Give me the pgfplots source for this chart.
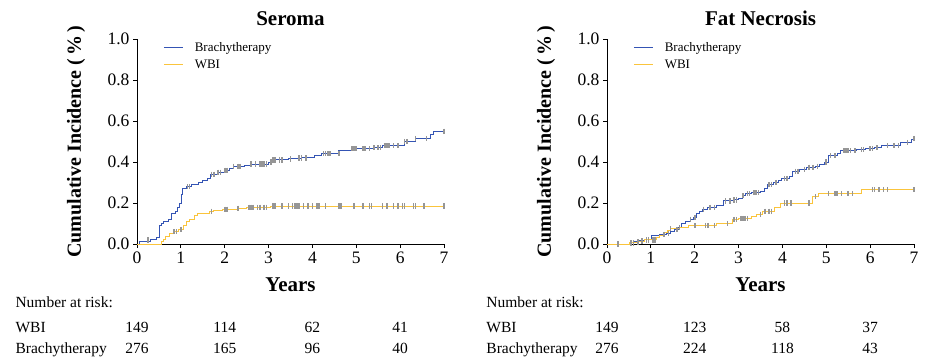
\documentclass[border=0pt]{standalone}
\usepackage{fontspec}
\setmainfont{Liberation Serif}
\usepackage{pgfplots}
\pgfplotsset{compat=1.18}
\definecolor{bt}{RGB}{52,84,180}
\definecolor{wb}{RGB}{250,196,60}
\definecolor{cens}{RGB}{150,150,150}
\tikzset{risk/.style={font=\fontsize{15.5}{15.5}\selectfont}}
\pgfplotsset{kmstyle/.style={
  scale only axis, width=307pt, height=205pt,
  xmin=0, xmax=7, ymin=0, ymax=1,
  axis lines*=left,
  axis line style={line width=0.8pt},
  xtick={0,1,...,7}, ytick={0,0.2,0.4,0.6,0.8,1.0},
  tick align=outside, major tick length=4pt,
  tick style={black, line width=0.8pt},
  yticklabel style={/pgf/number format/.cd, fixed, fixed zerofill, precision=1},
  ticklabel style={font=\fontsize{17.5}{17.5}\selectfont},
  /pgf/number format/assume math mode=true,
  clip=false,
  title style={at={(0.5,1)}, anchor=base, yshift=8pt, font=\fontsize{21}{21}\selectfont\bfseries},
  xlabel style={at={(0.5,0)}, anchor=base, yshift=-47pt, font=\fontsize{21}{21}\selectfont\bfseries},
  ylabel style={at={(-0.183,0.5)}, anchor=base, font=\fontsize{20}{20}\selectfont\bfseries},
  xlabel={Years}, ylabel={Cumulative Incidence (\,\%\,)},
  legend style={at={(0.085,0.995)}, anchor=north west, draw=none, fill=none,
    font=\fontsize{13}{13}\selectfont, row sep=3pt, inner sep=0pt},
  legend cell align=left,
  legend image code/.code={\draw[#1] (0pt,0pt) -- (19pt,0pt); \draw[draw=none] (19pt,0pt) -- (29pt,0pt);},
},
line/.style={const plot, no marks, line width=1pt},
cmark/.style={only marks, mark=|, mark size=2.6pt, cens, mark options={line width=1.6pt}}
}
\begin{document}
\begin{tikzpicture}
\useasboundingbox (0,0) rectangle (926pt,-357pt);
% ---------------- Seroma ----------------
\begin{axis}[kmstyle, at={(137pt,-244pt)}, anchor=south west, title={Seroma}]
\addplot[line, bt] coordinates {
(0,0) (0.05,0.01) (0.3,0.02) (0.45,0.03) (0.52,0.09) (0.55,0.10) (0.6,0.11)
(0.72,0.12) (0.78,0.15) (0.88,0.16) (0.93,0.18) (0.98,0.20) (1.01,0.24)
(1.04,0.27) (1.12,0.28) (1.25,0.29) (1.4,0.30) (1.5,0.31) (1.6,0.32)
(1.68,0.34) (1.85,0.35) (2.0,0.36) (2.1,0.37) (2.2,0.38) (2.45,0.385)
(2.6,0.39) (3.0,0.40) (3.1,0.41) (3.45,0.415) (3.75,0.42) (4.05,0.43)
(4.2,0.44) (4.6,0.455) (4.9,0.465) (5.4,0.47) (5.6,0.48) (6.1,0.50)
(6.35,0.515) (6.7,0.535) (6.75,0.55) (7.0,0.55)};
\addlegendentry{Brachytherapy}
\addplot[line, wb] coordinates {
(0,0) (0.55,0.01) (0.6,0.02) (0.65,0.035) (0.75,0.05) (0.85,0.06) (0.95,0.07)
(1.05,0.09) (1.12,0.11) (1.2,0.12) (1.3,0.14) (1.38,0.15) (1.65,0.16)
(1.75,0.165) (1.95,0.17) (2.3,0.175) (2.5,0.18) (3.05,0.185) (7,0.185)};
\addlegendentry{WBI}
\addplot[cmark, forget plot] coordinates {
(0.25,0.02) (1.15,0.28) (1.2,0.28) (1.7,0.34) (1.75,0.34) (1.85,0.35) (1.9,0.35)
(2.0,0.36) (2.05,0.36) (2.2,0.38) (2.3,0.38) (2.35,0.38) (2.6,0.39) (2.7,0.39)
(2.8,0.39) (2.85,0.39) (2.9,0.39) (2.95,0.39) (3.05,0.40) (3.1,0.41) (3.15,0.41)
(3.25,0.41) (3.3,0.41) (3.5,0.415) (3.7,0.42) (3.75,0.42) (3.85,0.42) (4.25,0.44)
(4.3,0.44) (4.35,0.44) (4.4,0.44) (4.6,0.44) (4.9,0.465) (4.95,0.465) (5.0,0.465)
(5.15,0.465) (5.2,0.465) (5.3,0.465) (5.4,0.47) (5.5,0.47) (5.55,0.47) (5.65,0.48)
(5.7,0.48) (5.75,0.48) (5.85,0.48) (5.95,0.48) (6.1,0.50) (6.15,0.50) (6.35,0.515)
(6.6,0.515) (7.0,0.55)};
\addplot[cmark, forget plot] coordinates {
(0.85,0.06) (0.9,0.06) (1.0,0.07) (1.7,0.16) (2.0,0.17) (2.05,0.17) (2.3,0.175)
(2.55,0.18) (2.6,0.18) (2.65,0.18) (2.75,0.18) (2.8,0.18) (2.9,0.18) (2.95,0.18)
(3.1,0.185) (3.15,0.185) (3.3,0.185) (3.45,0.185) (3.55,0.185) (3.6,0.185)
(3.65,0.185) (3.7,0.185) (3.8,0.185) (3.9,0.185) (4.0,0.185) (4.1,0.185)
(4.15,0.185) (4.3,0.185) (4.6,0.185) (4.65,0.185) (4.95,0.185) (5.15,0.185)
(5.3,0.185) (5.35,0.185) (5.6,0.185) (5.7,0.185) (5.85,0.185) (5.95,0.185)
(6.05,0.185) (6.1,0.185) (6.3,0.185) (6.35,0.185) (6.55,0.185) (7.0,0.185)};
\node[risk, anchor=base west] at (axis cs:-2.85,-0.312) {Number at risk:};
\node[risk, anchor=base west] at (axis cs:-2.85,-0.434) {WBI};
\node[risk, anchor=base west] at (axis cs:-2.85,-0.532) {Brachytherapy};
\node[risk, anchor=base] at (axis cs:0,-0.434) {149};
\node[risk, anchor=base] at (axis cs:2,-0.434) {114};
\node[risk, anchor=base] at (axis cs:4,-0.434) {62};
\node[risk, anchor=base] at (axis cs:6,-0.434) {41};
\node[risk, anchor=base] at (axis cs:0,-0.532) {276};
\node[risk, anchor=base] at (axis cs:2,-0.532) {165};
\node[risk, anchor=base] at (axis cs:4,-0.532) {96};
\node[risk, anchor=base] at (axis cs:6,-0.532) {40};
\end{axis}
% ---------------- Fat Necrosis ----------------
\begin{axis}[kmstyle, at={(607pt,-244pt)}, anchor=south west, title={Fat Necrosis}]
\addplot[line, bt] coordinates {
(0,0) (0.52,0.005) (0.62,0.01) (0.75,0.015) (0.85,0.02) (1.02,0.04) (1.2,0.045)
(1.35,0.05) (1.45,0.06) (1.55,0.07) (1.62,0.08) (1.7,0.10) (1.8,0.11) (1.9,0.12)
(1.98,0.13) (2.05,0.15) (2.12,0.16) (2.18,0.17) (2.3,0.18) (2.5,0.19) (2.65,0.21)
(2.9,0.215) (3.0,0.22) (3.08,0.235) (3.15,0.245) (3.3,0.25) (3.5,0.255) (3.58,0.27)
(3.65,0.29) (3.8,0.30) (3.9,0.31) (3.98,0.32) (4.15,0.33) (4.22,0.355) (4.4,0.365)
(4.55,0.375) (4.75,0.38) (4.85,0.39) (4.95,0.40) (5.05,0.43) (5.25,0.44) (5.32,0.455)
(5.7,0.46) (5.9,0.465) (6.1,0.47) (6.25,0.48) (6.7,0.495) (6.95,0.51) (7.0,0.515)};
\addlegendentry{Brachytherapy}
\addplot[line, wb] coordinates {
(0,0) (0.52,0.005) (0.7,0.01) (0.85,0.02) (1.12,0.03) (1.2,0.04) (1.3,0.055)
(1.38,0.065) (1.45,0.075) (1.65,0.08) (1.85,0.09) (2.5,0.10) (2.85,0.12) (3.0,0.125)
(3.3,0.135) (3.42,0.145) (3.55,0.16) (3.82,0.18) (3.95,0.20) (4.68,0.23) (4.82,0.245)
(5.8,0.265) (7.0,0.265)};
\addlegendentry{WBI}
\addplot[cmark, forget plot] coordinates {
(0.6,0.005) (0.7,0.01) (0.8,0.015) (0.9,0.02) (0.95,0.02) (1.3,0.045) (1.4,0.05)
(1.6,0.07) (1.9,0.12) (2.0,0.13) (2.2,0.17) (2.35,0.18) (2.45,0.18) (2.7,0.21)
(2.8,0.21) (2.9,0.215) (2.95,0.215) (3.1,0.235) (3.2,0.245) (3.25,0.245) (3.35,0.25)
(3.4,0.25) (3.45,0.25) (3.7,0.29) (3.75,0.29) (3.85,0.30) (4.05,0.32) (4.1,0.32)
(4.3,0.355) (4.35,0.355) (4.5,0.365) (4.6,0.375) (4.7,0.375) (4.8,0.38) (5.0,0.40)
(5.1,0.43) (5.2,0.43) (5.4,0.455) (5.45,0.455) (5.5,0.455) (5.55,0.455) (5.65,0.455)
(5.8,0.46) (5.85,0.46) (6.0,0.465) (6.05,0.465) (6.15,0.47) (6.4,0.48) (6.55,0.48)
(6.65,0.48) (6.85,0.495) (7.0,0.515)};
\addplot[cmark, forget plot] coordinates {
(0.25,0) (0.55,0.005) (1.05,0.02) (1.1,0.02) (1.45,0.075) (1.65,0.08) (2.0,0.09)
(2.25,0.09) (2.3,0.09) (2.45,0.09) (2.75,0.10) (2.9,0.12) (2.95,0.12) (3.05,0.125)
(3.1,0.125) (3.15,0.125) (3.2,0.125) (3.5,0.145) (3.6,0.16) (3.7,0.16) (3.75,0.16)
(4.05,0.20) (4.1,0.20) (4.2,0.20) (4.6,0.20) (4.75,0.23) (5.05,0.245) (5.2,0.245)
(5.25,0.245) (5.35,0.245) (5.5,0.245) (5.6,0.245) (6.05,0.265) (6.1,0.265)
(6.2,0.265) (6.3,0.265) (6.4,0.265) (7.0,0.265)};
\node[risk, anchor=base west] at (axis cs:-2.83,-0.312) {Number at risk:};
\node[risk, anchor=base west] at (axis cs:-2.83,-0.434) {WBI};
\node[risk, anchor=base west] at (axis cs:-2.83,-0.532) {Brachytherapy};
\node[risk, anchor=base] at (axis cs:0,-0.434) {149};
\node[risk, anchor=base] at (axis cs:2,-0.434) {123};
\node[risk, anchor=base] at (axis cs:4,-0.434) {58};
\node[risk, anchor=base] at (axis cs:6,-0.434) {37};
\node[risk, anchor=base] at (axis cs:0,-0.532) {276};
\node[risk, anchor=base] at (axis cs:2,-0.532) {224};
\node[risk, anchor=base] at (axis cs:4,-0.532) {118};
\node[risk, anchor=base] at (axis cs:6,-0.532) {43};
\end{axis}
\end{tikzpicture}
\end{document}
